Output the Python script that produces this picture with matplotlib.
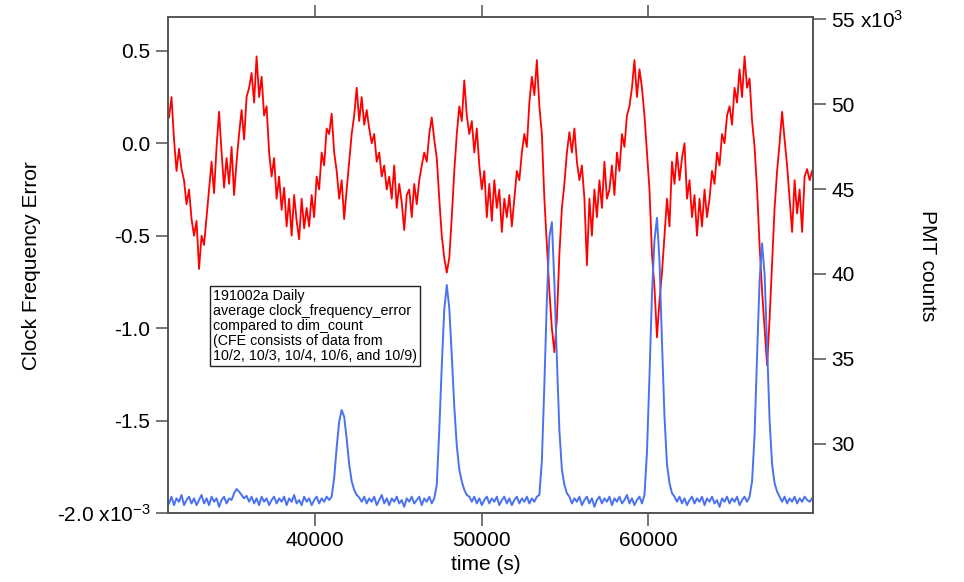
import numpy as np
import matplotlib
matplotlib.use("Agg")
import matplotlib.pyplot as plt
from matplotlib.ticker import FixedLocator

plt.rcParams['font.family'] = ['Liberation Sans', 'DejaVu Sans']
plt.rcParams['mathtext.default'] = 'regular'

# sampling grid of the daily average (s)
t_start = 31265
t_step = 150

# average clock_frequency_error (x1e-3), one row = 8 samples
cfe = [
    0.14, 0.25, 0.02, -0.15, -0.03, -0.14, -0.20, -0.33,
    -0.25, -0.41, -0.50, -0.42, -0.68, -0.50, -0.55, -0.40,
    -0.25, -0.10, -0.27, -0.02, 0.17, -0.05, -0.24, -0.08,
    -0.22, -0.02, -0.28, -0.10, 0.05, 0.18, 0.02, 0.25,
    0.30, 0.38, 0.22, 0.47, 0.25, 0.36, 0.15, 0.20,
    -0.05, -0.18, -0.08, -0.30, -0.18, -0.36, -0.24, -0.45,
    -0.30, -0.50, -0.28, -0.42, -0.52, -0.30, -0.46, -0.35,
    -0.45, -0.28, -0.40, -0.18, -0.25, -0.05, -0.12, 0.08,
    0.05, 0.16, -0.05, -0.15, -0.30, -0.20, -0.41, -0.25,
    -0.10, 0.05, 0.15, 0.30, 0.12, 0.25, 0.10, 0.18,
    0.08, 0.00, 0.05, -0.10, -0.05, -0.18, -0.12, -0.25,
    -0.18, -0.30, -0.12, -0.35, -0.22, -0.32, -0.47, -0.28,
    -0.25, -0.40, -0.22, -0.33, -0.20, -0.12, -0.05, -0.10,
    0.05, 0.14, 0.02, -0.08, -0.30, -0.50, -0.62, -0.70,
    -0.62, -0.40, -0.15, 0.05, 0.20, 0.12, 0.34, 0.15,
    0.05, 0.12, -0.05, 0.08, -0.12, -0.25, -0.15, -0.40,
    -0.22, -0.42, -0.20, -0.35, -0.25, -0.48, -0.30, -0.40,
    -0.28, -0.45, -0.30, -0.15, -0.20, -0.05, 0.05, -0.02,
    0.22, 0.36, 0.26, 0.45, 0.20, 0.05, -0.30, -0.55,
    -0.80, -1.00, -1.13, -0.95, -0.60, -0.35, -0.22, -0.05,
    0.06, -0.05, 0.08, -0.10, -0.20, -0.12, -0.30, -0.66,
    -0.30, -0.50, -0.25, -0.40, -0.20, -0.35, -0.10, -0.30,
    -0.25, -0.12, -0.28, -0.05, -0.15, 0.05, -0.02, 0.15,
    0.20, 0.30, 0.45, 0.25, 0.40, 0.30, 0.15, -0.05,
    -0.25, -0.60, -0.78, -1.05, -0.85, -0.70, -0.50, -0.30,
    -0.45, -0.10, -0.22, -0.05, -0.20, -0.08, 0.00, -0.30,
    -0.20, -0.40, -0.28, -0.50, -0.30, -0.45, -0.25, -0.40,
    -0.30, -0.15, -0.22, -0.05, -0.12, 0.05, 0.00, 0.15,
    0.20, 0.10, 0.30, 0.22, 0.40, 0.25, 0.47, 0.30,
    0.35, 0.12, -0.02, -0.25, -0.55, -0.80, -1.00, -1.20,
    -0.95, -0.65, -0.35, -0.15, 0.00, 0.17, 0.02, -0.12,
    -0.30, -0.48, -0.20, -0.38, -0.25, -0.48, -0.18, -0.14,
    -0.20, -0.15,
]

# dim_count PMT counts (x1e3) on the same grid
pmt = [
    26.5, 26.9, 26.4, 26.8, 26.6, 27.0, 26.4, 26.7,
    26.9, 26.5, 26.8, 26.4, 26.7, 27.0, 26.5, 26.8,
    26.4, 26.9, 26.6, 26.8, 26.3, 26.7, 26.9, 26.5,
    26.8, 26.7, 27.1, 27.35, 27.2, 27.0, 26.8, 26.95,
    26.6, 26.9, 26.5, 26.8, 26.4, 26.9, 26.6, 26.8,
    26.4, 26.7, 26.9, 26.5, 26.8, 26.6, 26.9, 26.4,
    26.8, 26.6, 27.0, 26.5, 26.7, 26.4, 26.9, 26.6,
    26.8, 26.4, 26.7, 26.9, 26.5, 26.8, 26.6, 26.9,
    26.7, 26.9, 28.0, 29.8, 31.3, 32.0, 31.6, 30.3,
    28.8, 27.8, 27.3, 27.0, 26.85, 26.6, 26.9, 26.5,
    26.8, 26.6, 26.9, 26.4, 26.7, 27.0, 26.5, 26.8,
    26.4, 26.8, 26.6, 26.9, 26.5, 26.7, 26.3, 26.8,
    26.6, 26.9, 26.5, 26.7, 26.9, 26.4, 26.8, 26.6,
    26.9, 26.5, 26.8, 27.6, 30.8, 34.6, 37.9, 39.35,
    38.0, 35.2, 32.2, 29.9, 28.5, 27.8, 27.3, 27.0,
    26.9, 26.6, 26.9, 26.5, 26.8, 26.4, 26.7, 26.9,
    26.5, 26.8, 26.6, 26.9, 26.4, 26.7, 26.9, 26.5,
    26.8, 26.4, 26.7, 26.9, 26.5, 26.8, 26.6, 26.9,
    26.5, 26.8, 26.6, 26.9, 27.0, 29.0, 33.5, 38.5,
    42.2, 43.05, 39.5, 35.0, 30.8, 28.5, 27.6, 27.1,
    26.9, 26.5, 26.8, 26.6, 26.9, 26.4, 26.7, 26.9,
    26.5, 26.8, 26.3, 26.7, 26.9, 26.5, 26.8, 26.6,
    26.9, 26.4, 26.8, 26.6, 26.9, 26.5, 26.7, 27.0,
    26.5, 26.8, 26.4, 26.7, 26.9, 26.5, 27.0, 29.5,
    34.0, 38.8, 42.0, 43.3, 40.8, 36.0, 31.6, 28.8,
    27.7, 27.1, 26.9, 26.6, 26.9, 26.5, 26.8, 26.4,
    26.7, 26.9, 26.5, 26.8, 26.6, 26.9, 26.4, 26.8,
    26.6, 26.9, 26.5, 26.7, 26.3, 26.8, 26.6, 26.9,
    26.5, 26.8, 26.6, 26.9, 26.4, 26.7, 26.9, 26.6,
    26.9, 27.8, 30.5, 35.2, 39.6, 41.8, 40.0, 35.8,
    31.4, 28.8, 27.7, 27.2, 26.9, 26.6, 26.9, 26.5,
    26.8, 26.6, 26.9, 26.5, 26.8, 26.6, 26.9, 26.7,
    26.6, 26.8,
]

x_ticks = [40000, 50000, 60000]
left_ticks = [-2.0, -1.5, -1.0, -0.5, 0.0, 0.5]
left_labels = ['-2.0 x10$^{-3}$', '-1.5', '-1.0', '-0.5', '0.0', '0.5']
right_ticks = [30, 35, 40, 45, 50, 55]
right_labels = ['30', '35', '40', '45', '50', '55 x10$^{3}$']

note = ("191002a Daily\naverage clock_frequency_error\ncompared to dim_count\n"
        "(CFE consists of data from\n10/2, 10/3, 10/4, 10/6, and 10/9)")

t = t_start + t_step * np.arange(len(cfe))

frame = '#505050'
fs = 15

fig = plt.figure(figsize=(9.64, 5.82), dpi=100)
ax = fig.add_axes([0.1746, 0.1186, 0.6688, 0.8522])
ax2 = ax.twinx()

ax.plot(t, cfe, color='#ff0000', lw=1.3)
ax2.plot(t, pmt, color='#4a72f0', lw=1.4)

ax.set_xlim(31223, 69870)
ax.set_ylim(-2.0, 0.683)
ax2.set_ylim(25.94, 55.12)

ax.xaxis.set_major_locator(FixedLocator(x_ticks))
ax.set_xticklabels([str(v) for v in x_ticks])
ax.yaxis.set_major_locator(FixedLocator(left_ticks))
ax.set_yticklabels(left_labels)
ax2.yaxis.set_major_locator(FixedLocator(right_ticks))
ax2.set_yticklabels(right_labels)

ax.tick_params(axis='both', direction='out', length=9, width=1.1,
               color=frame, labelsize=fs, pad=4)
ax.tick_params(axis='x', top=True, labeltop=False)
ax2.tick_params(axis='y', direction='out', length=9, width=1.1,
                color=frame, labelsize=fs, pad=4)
for a in (ax, ax2):
    for s in a.spines.values():
        s.set_color(frame)
        s.set_linewidth(1.1)

fig.text(32 / 964, 1 - 266 / 582, 'Clock Frequency Error', rotation=90,
         ha='center', va='center', fontsize=fs)
fig.text(927 / 964, 1 - 266 / 582, 'PMT counts', rotation=270,
         ha='center', va='center', fontsize=fs)
fig.text(486 / 964, 1 - 565 / 582, 'time (s)', ha='center', va='center',
         fontsize=fs)

ax.text(0.0695, 0.452, note, transform=ax.transAxes, ha='left', va='top',
        fontsize=10.3, linespacing=1.1, zorder=5,
        bbox=dict(boxstyle='square,pad=0.2', fc='white', ec='#222222', lw=1))

fig.savefig('out.png', dpi=100)
